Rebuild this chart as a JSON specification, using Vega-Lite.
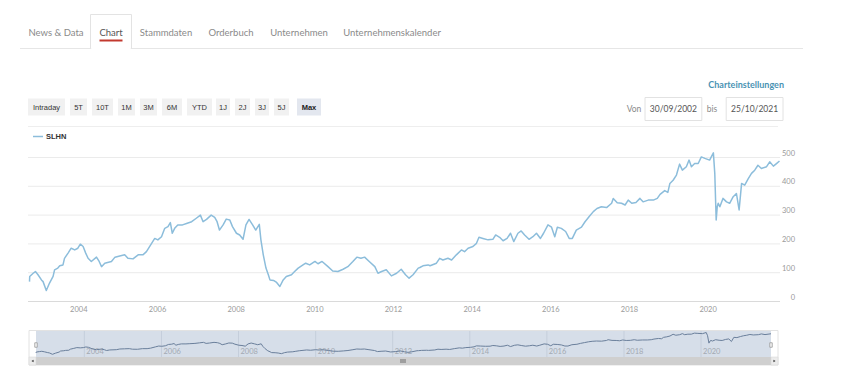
{
  "$schema": "https://vega.github.io/schema/vega-lite/v6.json",
  "width": 860,
  "height": 380,
  "autosize": {"type": "none"},
  "padding": 0,
  "background": "white",
  "config": {"view": {"stroke": null}, "axis": {"disable": true}, "legend": {"disable": true}},
  "datasets": {
    "slhn": [
      {"date":"2002-09-30","value":69},{"date":"2002-10-02","value":87},{"date":"2002-11-03","value":98},{"date":"2002-11-24","value":104},{"date":"2002-12-18","value":93},
      {"date":"2003-01-19","value":75},{"date":"2003-02-03","value":69},{"date":"2003-03-05","value":38},{"date":"2003-04-04","value":64},{"date":"2003-05-07","value":87},
      {"date":"2003-05-21","value":110},{"date":"2003-06-20","value":116},{"date":"2003-07-08","value":124},{"date":"2003-08-07","value":127},{"date":"2003-08-21","value":150},
      {"date":"2003-09-23","value":168},{"date":"2003-10-22","value":185},{"date":"2003-11-24","value":179},{"date":"2003-12-23","value":185},{"date":"2004-01-15","value":199},
      {"date":"2004-02-10","value":191},{"date":"2004-03-05","value":168},{"date":"2004-03-27","value":150},{"date":"2004-04-26","value":139},{"date":"2004-06-13","value":154},
      {"date":"2004-07-08","value":139},{"date":"2004-07-30","value":121},{"date":"2004-08-29","value":133},{"date":"2004-10-30","value":139},{"date":"2004-12-02","value":154},
      {"date":"2005-01-15","value":158},{"date":"2005-03-02","value":162},{"date":"2005-04-01","value":150},{"date":"2005-05-18","value":148},{"date":"2005-07-05","value":162},
      {"date":"2005-08-18","value":162},{"date":"2005-09-20","value":173},{"date":"2005-11-07","value":202},{"date":"2005-12-06","value":219},{"date":"2006-01-04","value":214},
      {"date":"2006-02-07","value":225},{"date":"2006-03-09","value":254},{"date":"2006-04-08","value":260},{"date":"2006-04-30","value":274},{"date":"2006-05-18","value":237},
      {"date":"2006-06-09","value":254},{"date":"2006-07-08","value":266},{"date":"2006-08-21","value":266},{"date":"2006-09-27","value":271},{"date":"2006-11-14","value":277},
      {"date":"2006-12-27","value":289},{"date":"2007-02-03","value":300},{"date":"2007-02-28","value":277},{"date":"2007-04-01","value":285},{"date":"2007-05-14","value":300},
      {"date":"2007-06-16","value":292},{"date":"2007-07-08","value":277},{"date":"2007-07-30","value":248},{"date":"2007-09-02","value":266},{"date":"2007-10-01","value":286},
      {"date":"2007-11-03","value":283},{"date":"2007-11-28","value":260},{"date":"2008-01-04","value":237},{"date":"2008-02-03","value":231},{"date":"2008-03-05","value":216},
      {"date":"2008-04-01","value":266},{"date":"2008-04-30","value":285},{"date":"2008-06-02","value":266},{"date":"2008-07-01","value":248},{"date":"2008-08-03","value":268},
      {"date":"2008-08-18","value":214},{"date":"2008-09-09","value":162},{"date":"2008-10-04","value":116},{"date":"2008-10-26","value":93},{"date":"2008-11-10","value":75},
      {"date":"2008-12-13","value":73},{"date":"2009-01-11","value":66},{"date":"2009-02-10","value":52},{"date":"2009-03-13","value":75},{"date":"2009-04-11","value":87},
      {"date":"2009-05-29","value":93},{"date":"2009-06-27","value":104},{"date":"2009-07-30","value":116},{"date":"2009-09-13","value":127},{"date":"2009-10-08","value":133},
      {"date":"2009-11-14","value":127},{"date":"2010-01-02","value":139},{"date":"2010-01-30","value":131},{"date":"2010-03-09","value":139},{"date":"2010-05-03","value":121},
      {"date":"2010-06-16","value":106},{"date":"2010-08-03","value":104},{"date":"2010-09-20","value":112},{"date":"2010-11-03","value":121},{"date":"2010-12-20","value":139},
      {"date":"2011-01-26","value":154},{"date":"2011-03-05","value":150},{"date":"2011-04-08","value":154},{"date":"2011-05-21","value":139},{"date":"2011-07-12","value":121},
      {"date":"2011-08-10","value":98},{"date":"2011-09-13","value":104},{"date":"2011-10-26","value":110},{"date":"2011-12-13","value":89},{"date":"2012-01-30","value":98},
      {"date":"2012-03-13","value":112},{"date":"2012-04-22","value":93},{"date":"2012-05-25","value":81},{"date":"2012-07-01","value":93},{"date":"2012-08-18","value":116},
      {"date":"2012-09-02","value":118},{"date":"2012-10-01","value":124},{"date":"2012-11-18","value":127},{"date":"2012-12-06","value":124},{"date":"2013-02-03","value":133},
      {"date":"2013-03-05","value":150},{"date":"2013-04-04","value":144},{"date":"2013-05-21","value":150},{"date":"2013-06-24","value":144},{"date":"2013-08-07","value":162},
      {"date":"2013-09-23","value":179},{"date":"2013-10-22","value":173},{"date":"2013-11-24","value":185},{"date":"2014-01-08","value":191},{"date":"2014-02-10","value":202},
      {"date":"2014-03-05","value":223},{"date":"2014-04-11","value":219},{"date":"2014-05-29","value":214},{"date":"2014-07-12","value":216},{"date":"2014-08-07","value":231},
      {"date":"2014-09-13","value":223},{"date":"2014-10-15","value":211},{"date":"2014-11-21","value":219},{"date":"2014-12-23","value":237},{"date":"2015-01-22","value":208},
      {"date":"2015-03-02","value":237},{"date":"2015-04-01","value":245},{"date":"2015-05-03","value":231},{"date":"2015-06-13","value":216},{"date":"2015-07-19","value":225},
      {"date":"2015-08-21","value":237},{"date":"2015-09-27","value":219},{"date":"2015-10-26","value":237},{"date":"2015-12-06","value":266},{"date":"2016-01-08","value":258},
      {"date":"2016-02-07","value":225},{"date":"2016-03-02","value":258},{"date":"2016-04-08","value":254},{"date":"2016-05-18","value":243},{"date":"2016-06-20","value":219},
      {"date":"2016-07-19","value":219},{"date":"2016-08-25","value":248},{"date":"2016-10-12","value":258},{"date":"2016-11-14","value":277},{"date":"2016-12-23","value":295},
      {"date":"2017-01-30","value":312},{"date":"2017-03-05","value":323},{"date":"2017-04-15","value":329},{"date":"2017-06-02","value":326},{"date":"2017-07-19","value":341},
      {"date":"2017-08-03","value":358},{"date":"2017-09-09","value":343},{"date":"2017-10-19","value":341},{"date":"2017-11-21","value":335},{"date":"2017-12-20","value":352},
      {"date":"2018-01-22","value":341},{"date":"2018-03-02","value":344},{"date":"2018-04-08","value":358},{"date":"2018-05-07","value":346},{"date":"2018-06-24","value":352},
      {"date":"2018-08-10","value":352},{"date":"2018-09-16","value":358},{"date":"2018-10-12","value":372},{"date":"2018-11-24","value":385},{"date":"2018-12-23","value":379},
      {"date":"2019-01-11","value":410},{"date":"2019-02-10","value":421},{"date":"2019-03-13","value":439},{"date":"2019-04-11","value":477},{"date":"2019-05-07","value":456},
      {"date":"2019-06-13","value":468},{"date":"2019-07-08","value":491},{"date":"2019-07-30","value":468},{"date":"2019-08-29","value":479},{"date":"2019-10-01","value":479},
      {"date":"2019-10-30","value":502},{"date":"2019-12-02","value":497},{"date":"2020-01-15","value":491},{"date":"2020-02-19","value":516},{"date":"2020-03-03","value":445},
      {"date":"2020-03-16","value":283},{"date":"2020-03-26","value":329},{"date":"2020-04-04","value":341},{"date":"2020-04-19","value":329},{"date":"2020-05-18","value":358},
      {"date":"2020-06-20","value":346},{"date":"2020-07-19","value":341},{"date":"2020-08-21","value":364},{"date":"2020-09-20","value":375},{"date":"2020-10-15","value":318},
      {"date":"2020-11-07","value":410},{"date":"2020-12-06","value":404},{"date":"2021-01-08","value":427},{"date":"2021-02-07","value":445},{"date":"2021-03-09","value":456},
      {"date":"2021-04-08","value":473},{"date":"2021-05-10","value":462},{"date":"2021-06-27","value":468},{"date":"2021-07-26","value":485},{"date":"2021-08-29","value":470},
      {"date":"2021-09-27","value":479},{"date":"2021-10-25","value":488}
    ],
    "years": [
      {"t":"2004-01-01","lab":"2004"},{"t":"2006-01-01","lab":"2006"},{"t":"2008-01-01","lab":"2008"},{"t":"2010-01-01","lab":"2010"},{"t":"2012-01-01","lab":"2012"},
      {"t":"2014-01-01","lab":"2014"},{"t":"2016-01-01","lab":"2016"},{"t":"2018-01-01","lab":"2018"},{"t":"2020-01-01","lab":"2020"}
    ],
    "ticks": [{"v":0},{"v":100},{"v":200},{"v":300},{"v":400},{"v":500}],
    "one": [{"item":"frame"}]
  },
  "layer": [
    {
      "data": {"name": "one"},
      "mark": {"type": "rule", "stroke": "#e6e6e6", "strokeWidth": 1},
      "encoding": {
        "x": {"datum": 0, "scale": {"domain": [0, 1], "range": [20, 803]}},
        "x2": {"datum": 1},
        "y": {"datum": 0, "scale": {"domain": [0, 1], "range": [48.5, 47.5]}}
      }
    },
    {
      "data": {"values": [{"tab": "Chart"}]},
      "mark": {"type": "rect", "fill": "#ffffff", "stroke": "#e3e3e3", "strokeWidth": 1},
      "encoding": {
        "x": {"datum": 0, "scale": {"domain": [0, 1], "range": [90.5, 131.5]}},
        "x2": {"datum": 1},
        "y": {"datum": 0, "scale": {"domain": [0, 1], "range": [48.5, 14.5]}},
        "y2": {"datum": 1}
      }
    },
    {
      "data": {"values": [{"tab": "Chart"}]},
      "mark": {"type": "rule", "stroke": "#ffffff", "strokeWidth": 1.5},
      "encoding": {
        "x": {"datum": 0, "scale": {"domain": [0, 1], "range": [91.2, 130.8]}},
        "x2": {"datum": 1},
        "y": {"datum": 0, "scale": {"domain": [0, 1], "range": [48.5, 47.5]}}
      }
    },
    {
      "data": {"values": [{"tab": "Chart"}]},
      "mark": {"type": "rule", "stroke": "#c2392f", "strokeWidth": 2},
      "encoding": {
        "x": {"datum": 0, "scale": {"domain": [0, 1], "range": [99.5, 122.5]}},
        "x2": {"datum": 1},
        "y": {"datum": 0, "scale": {"domain": [0, 1], "range": [40.5, 39.5]}}
      }
    },
    {
      "data": {"values": [
        {"tab": "News & Data", "k": 0}, {"tab": "Chart", "k": 1}, {"tab": "Stammdaten", "k": 2},
        {"tab": "Orderbuch", "k": 3}, {"tab": "Unternehmen", "k": 4}, {"tab": "Unternehmenskalender", "k": 5}
      ]},
      "mark": {"type": "text", "font": "Lato", "fontSize": 9.5, "baseline": "middle", "align": "center"},
      "encoding": {
        "x": {"field": "k", "type": "quantitative", "scale": {"domain": [0, 1, 2, 3, 4, 5], "range": [56, 111, 166, 231, 299, 392], "nice": false, "zero": false}},
        "y": {"datum": 0, "scale": {"domain": [0, 1], "range": [32.5, 31.5]}},
        "text": {"field": "tab"},
        "color": {"condition": {"test": "datum.tab === 'Chart'", "value": "#555555"}, "value": "#8a8a8a"}
      }
    },
    {
      "data": {"values": [
        {"btn": "Intraday", "k": 0}, {"btn": "5T", "k": 1}, {"btn": "10T", "k": 2}, {"btn": "1M", "k": 3},
        {"btn": "3M", "k": 4}, {"btn": "6M", "k": 5}, {"btn": "YTD", "k": 6}, {"btn": "1J", "k": 7},
        {"btn": "2J", "k": 8}, {"btn": "3J", "k": 9}, {"btn": "5J", "k": 10}, {"btn": "Max", "k": 11}
      ]},
      "transform": [{"calculate": "datum.k + 0.5", "as": "k2"}],
      "mark": {"type": "rect"},
      "encoding": {
        "x": {"field": "k", "type": "quantitative", "scale": {"domain": [0,0.5,1,1.5,2,2.5,3,3.5,4,4.5,5,5.5,6,6.5,7,7.5,8,8.5,9,9.5,10,10.5,11,11.5], "range": [28,65,70,87,92,113,118,135,140,157,162,182,187,212,216,230,235,250,255,269,274,289,297,321], "nice": false, "zero": false}},
        "x2": {"field": "k2"},
        "y": {"datum": 0, "scale": {"domain": [0, 1], "range": [115.5, 98.5]}},
        "y2": {"datum": 1},
        "fill": {"condition": {"test": "datum.btn === 'Max'", "value": "#e3e7ef"}, "value": "#f1f1f1"}
      }
    },
    {
      "data": {"values": [
        {"btn": "Intraday", "k": 0}, {"btn": "5T", "k": 1}, {"btn": "10T", "k": 2}, {"btn": "1M", "k": 3},
        {"btn": "3M", "k": 4}, {"btn": "6M", "k": 5}, {"btn": "YTD", "k": 6}, {"btn": "1J", "k": 7},
        {"btn": "2J", "k": 8}, {"btn": "3J", "k": 9}, {"btn": "5J", "k": 10}, {"btn": "Max", "k": 11}
      ]},
      "mark": {"type": "text", "font": "Liberation Sans", "fontSize": 7.5, "baseline": "middle", "align": "center", "fill": "#333333"},
      "encoding": {
        "x": {"field": "k", "type": "quantitative", "scale": {"domain": [0,1,2,3,4,5,6,7,8,9,10,11], "range": [46.5,78.5,102.5,126.5,148.5,172,199.5,223,242.5,262,281.5,309], "nice": false, "zero": false}},
        "y": {"datum": 0, "scale": {"domain": [0, 1], "range": [107.5, 106.5]}},
        "text": {"field": "btn"},
        "opacity": {"condition": {"test": "datum.btn === 'Max'", "value": 0}, "value": 1}
      }
    },
    {
      "data": {"values": [{"btn": "Max"}]},
      "mark": {"type": "text", "font": "Liberation Sans", "fontSize": 7.5, "fontWeight": "bold", "baseline": "middle", "align": "center", "fill": "#222222"},
      "encoding": {
        "x": {"datum": 0, "scale": {"domain": [0, 1], "range": [309, 310]}},
        "y": {"datum": 0, "scale": {"domain": [0, 1], "range": [107.5, 106.5]}},
        "text": {"field": "btn"}
      }
    },
    {
      "data": {"values": [{"link": "Charteinstellungen"}]},
      "mark": {"type": "text", "font": "Lato", "fontSize": 9, "fontWeight": "bold", "baseline": "middle", "align": "right", "fill": "#4a93b3"},
      "encoding": {
        "x": {"datum": 0, "scale": {"domain": [0, 1], "range": [784, 785]}},
        "y": {"datum": 0, "scale": {"domain": [0, 1], "range": [84.5, 83.5]}},
        "text": {"field": "link"}
      }
    },
    {
      "data": {"values": [{"box": "von", "d": "30/09/2002"}, {"box": "bis", "d": "25/10/2021"}]},
      "mark": {"type": "rect", "fill": "#ffffff", "stroke": "#e2e2e2", "strokeWidth": 1},
      "encoding": {
        "x": {"field": "box", "type": "nominal", "sort": null, "scale": {"type": "band", "domain": ["von", "bis"], "range": [645, 783], "paddingInner": 0.3, "paddingOuter": 0}},
        "y": {"datum": 0, "scale": {"domain": [0, 1], "range": [120.5, 97.5]}},
        "y2": {"datum": 1}
      }
    },
    {
      "data": {"values": [{"box": "von", "d": "30/09/2002"}, {"box": "bis", "d": "25/10/2021"}]},
      "mark": {"type": "text", "font": "Lato", "fontSize": 8.5, "baseline": "middle", "align": "center", "fill": "#555555"},
      "encoding": {
        "x": {"field": "box", "type": "nominal", "sort": null, "scale": {"type": "band", "domain": ["von", "bis"], "range": [645, 783], "paddingInner": 0.3, "paddingOuter": 0}},
        "y": {"datum": 0, "scale": {"domain": [0, 1], "range": [109, 108]}},
        "text": {"field": "d"}
      }
    },
    {
      "data": {"values": [{"l": "Von", "k": 0}, {"l": "bis", "k": 1}]},
      "mark": {"type": "text", "font": "Lato", "fontSize": 8.5, "baseline": "middle", "align": "center", "fill": "#8a8a8a"},
      "encoding": {
        "x": {"field": "k", "type": "quantitative", "scale": {"domain": [0, 1], "range": [634, 712], "nice": false, "zero": false}},
        "y": {"datum": 0, "scale": {"domain": [0, 1], "range": [109, 108]}},
        "text": {"field": "l"}
      }
    },
    {
      "data": {"name": "one"},
      "mark": {"type": "rule", "stroke": "#eeeeee", "strokeWidth": 1},
      "encoding": {
        "x": {"datum": 0, "scale": {"domain": [0, 1], "range": [28, 778]}},
        "x2": {"datum": 1},
        "y": {"datum": 0, "scale": {"domain": [0, 1], "range": [126.5, 125.5]}}
      }
    },
    {
      "data": {"values": [{"series": "SLHN"}]},
      "mark": {"type": "rule", "stroke": "#8cbddb", "strokeWidth": 1.5},
      "encoding": {
        "x": {"datum": 0, "scale": {"domain": [0, 1], "range": [33, 43]}},
        "x2": {"datum": 1},
        "y": {"datum": 0, "scale": {"domain": [0, 1], "range": [136.5, 135.5]}}
      }
    },
    {
      "data": {"values": [{"series": "SLHN"}]},
      "mark": {"type": "text", "font": "Liberation Sans", "fontSize": 7.5, "fontWeight": "bold", "baseline": "middle", "align": "left", "fill": "#333333"},
      "encoding": {
        "x": {"datum": 0, "scale": {"domain": [0, 1], "range": [46, 47]}},
        "y": {"datum": 0, "scale": {"domain": [0, 1], "range": [136.5, 135.5]}},
        "text": {"field": "series"}
      }
    },
    {
      "data": {"name": "ticks"},
      "mark": {"type": "rule", "strokeWidth": 1},
      "encoding": {
        "x": {"datum": 0, "scale": {"domain": [0, 1], "range": [28, 780]}},
        "x2": {"datum": 1},
        "y": {"field": "v", "type": "quantitative", "scale": {"domain": [0, 500], "range": [301.5, 157.5], "nice": false, "zero": false}},
        "stroke": {"condition": {"test": "datum.v === 0", "value": "#dadada"}, "value": "#ebebeb"}
      }
    },
    {
      "data": {"name": "ticks"},
      "mark": {"type": "text", "font": "Lato", "fontSize": 7.5, "baseline": "middle", "align": "right", "fill": "#9a9a9a", "dy": -4},
      "encoding": {
        "x": {"datum": 0, "scale": {"domain": [0, 1], "range": [795, 796]}},
        "y": {"field": "v", "type": "quantitative", "scale": {"domain": [0, 500], "range": [301.5, 157.5], "nice": false, "zero": false}},
        "text": {"field": "v", "type": "quantitative"}
      }
    },
    {
      "data": {"name": "years"},
      "mark": {"type": "text", "font": "Lato", "fontSize": 7.5, "baseline": "middle", "align": "center", "fill": "#9a9a9a", "dy": 8.5},
      "encoding": {
        "x": {"field": "t", "type": "temporal", "scale": {"domain": [{"year": 2002, "month": 9, "date": 30, "utc": true}, {"year": 2021, "month": 10, "date": 25, "utc": true}], "range": [29.5, 779.5], "nice": false}},
        "y": {"datum": 0, "scale": {"domain": [0, 500], "range": [301.5, 157.5], "nice": false, "zero": false}},
        "text": {"field": "lab"}
      }
    },
    {
      "data": {"name": "slhn"},
      "mark": {"type": "line", "stroke": "#8cbddb", "strokeWidth": 1.5, "strokeJoin": "round"},
      "encoding": {
        "x": {"field": "date", "type": "temporal", "scale": {"domain": [{"year": 2002, "month": 9, "date": 30, "utc": true}, {"year": 2021, "month": 10, "date": 25, "utc": true}], "range": [29.5, 779.5], "nice": false}},
        "y": {"field": "value", "type": "quantitative", "scale": {"domain": [0, 500], "range": [301.5, 157.5], "nice": false, "zero": false}}
      }
    },
    {
      "data": {"name": "one"},
      "mark": {"type": "rect", "fill": "#ffffff", "stroke": "#e2e2e2", "strokeWidth": 1},
      "encoding": {
        "x": {"datum": 0, "scale": {"domain": [0, 1], "range": [29, 778]}},
        "x2": {"datum": 1},
        "y": {"datum": 0, "scale": {"domain": [0, 1], "range": [365, 330.5]}},
        "y2": {"datum": 1}
      }
    },
    {
      "data": {"name": "one"},
      "mark": {"type": "rect", "fill": "#d6dee9"},
      "encoding": {
        "x": {"datum": 0, "scale": {"domain": [0, 1], "range": [36, 771]}},
        "x2": {"datum": 1},
        "y": {"datum": 0, "scale": {"domain": [0, 1], "range": [357, 331]}},
        "y2": {"datum": 1}
      }
    },
    {
      "data": {"name": "years"},
      "mark": {"type": "rule", "stroke": "#c5cedb", "strokeWidth": 1},
      "encoding": {
        "x": {"field": "t", "type": "temporal", "scale": {"domain": [{"year": 2002, "month": 9, "date": 30, "utc": true}, {"year": 2021, "month": 10, "date": 25, "utc": true}], "range": [36, 771], "nice": false}},
        "y": {"datum": 0, "scale": {"domain": [0, 1], "range": [357, 331]}},
        "y2": {"datum": 1}
      }
    },
    {
      "data": {"name": "years"},
      "mark": {"type": "text", "font": "Lato", "fontSize": 7.5, "baseline": "middle", "align": "left", "fill": "#a3a9b2", "dx": 2},
      "encoding": {
        "x": {"field": "t", "type": "temporal", "scale": {"domain": [{"year": 2002, "month": 9, "date": 30, "utc": true}, {"year": 2021, "month": 10, "date": 25, "utc": true}], "range": [36, 771], "nice": false}},
        "y": {"datum": 0, "scale": {"domain": [0, 1], "range": [351.5, 350.5]}},
        "text": {"field": "lab"}
      }
    },
    {
      "data": {"name": "slhn"},
      "mark": {"type": "line", "stroke": "#6a7f9b", "strokeWidth": 1},
      "encoding": {
        "x": {"field": "date", "type": "temporal", "scale": {"domain": [{"year": 2002, "month": 9, "date": 30, "utc": true}, {"year": 2021, "month": 10, "date": 25, "utc": true}], "range": [36, 771], "nice": false}},
        "y": {"field": "value", "type": "quantitative", "scale": {"domain": [38, 516], "range": [354.3, 332.5], "nice": false, "zero": false}}
      }
    },
    {
      "data": {"name": "one"},
      "mark": {"type": "rect", "fill": "#cfcfcf"},
      "encoding": {
        "x": {"datum": 0, "scale": {"domain": [0, 1], "range": [29, 778]}},
        "x2": {"datum": 1},
        "y": {"datum": 0, "scale": {"domain": [0, 1], "range": [365, 357]}},
        "y2": {"datum": 1}
      }
    },
    {
      "data": {"values": [{"dir": "l", "k": 0}, {"dir": "r", "k": 1}]},
      "transform": [{"calculate": "datum.k + 0.5", "as": "k2"}],
      "mark": {"type": "rect", "fill": "#ececec", "stroke": "#d6d6d6", "strokeWidth": 0.5},
      "encoding": {
        "x": {"field": "k", "type": "quantitative", "scale": {"domain": [0, 0.5, 1, 1.5], "range": [29, 36, 771, 778], "nice": false, "zero": false}},
        "x2": {"field": "k2"},
        "y": {"datum": 0, "scale": {"domain": [0, 1], "range": [365, 357]}},
        "y2": {"datum": 1}
      }
    },
    {
      "data": {"values": [{"dir": "l"}, {"dir": "r"}]},
      "mark": {"type": "point", "filled": true, "fill": "#333333", "size": 6, "opacity": 1},
      "encoding": {
        "x": {"field": "dir", "type": "nominal", "sort": null, "scale": {"type": "point", "domain": ["l", "r"], "range": [32.5, 774.5], "padding": 0}},
        "y": {"datum": 0, "scale": {"domain": [0, 1], "range": [361, 360]}},
        "shape": {"field": "dir", "type": "nominal", "scale": {"domain": ["l", "r"], "range": ["triangle-left", "triangle-right"]}}
      }
    },
    {
      "data": {"values": [{"r": 0}, {"r": 1}, {"r": 2}]},
      "mark": {"type": "rule", "stroke": "#444444", "strokeWidth": 0.7},
      "encoding": {
        "x": {"field": "r", "type": "quantitative", "scale": {"domain": [0, 2], "range": [401, 405], "nice": false, "zero": false}},
        "y": {"datum": 0, "scale": {"domain": [0, 1], "range": [363, 359]}},
        "y2": {"datum": 1}
      }
    },
    {
      "data": {"values": [{"h": "2002-09-30"}, {"h": "2021-10-25"}]},
      "mark": {"type": "point", "filled": true, "fill": "#f4f4f4", "stroke": "#9a9a9a", "strokeWidth": 0.8, "size": 25, "opacity": 1, "shape": "M-0.5,-0.9H0.5V0.9H-0.5Z"},
      "encoding": {
        "x": {"field": "h", "type": "temporal", "scale": {"domain": [{"year": 2002, "month": 9, "date": 30, "utc": true}, {"year": 2021, "month": 10, "date": 25, "utc": true}], "range": [36, 771], "nice": false}},
        "y": {"datum": 0, "scale": {"domain": [0, 1], "range": [345, 344]}}
      }
    }
  ],
  "resolve": {"scale": {"x": "independent", "y": "independent", "color": "independent", "shape": "independent", "opacity": "independent", "fill": "independent", "stroke": "independent"}}
}
